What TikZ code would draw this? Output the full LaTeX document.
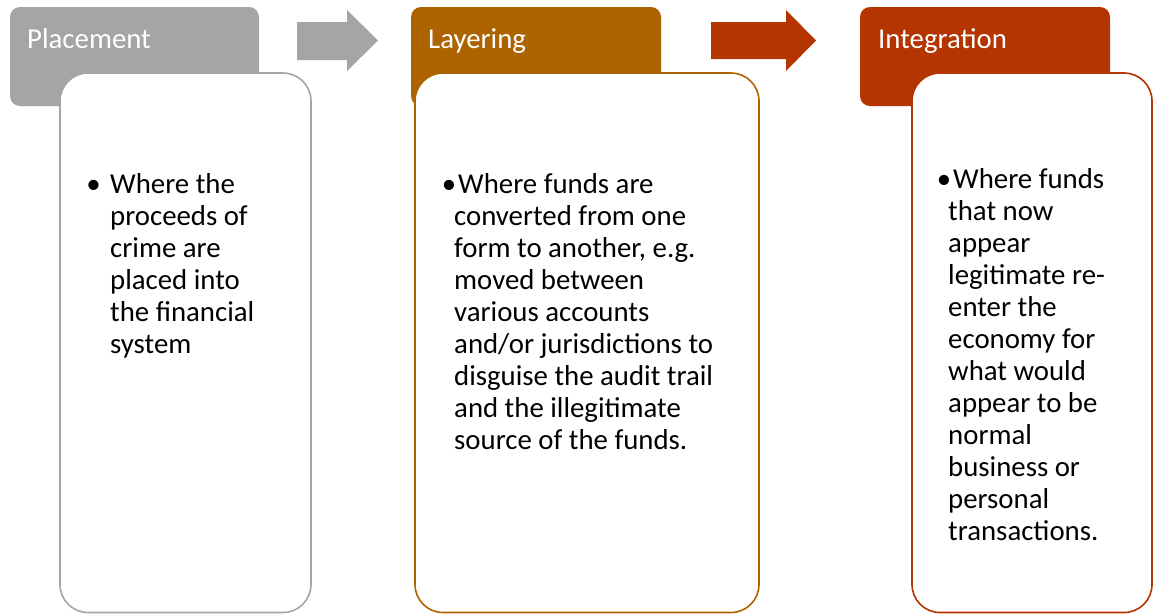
\documentclass[tikz,border=0pt]{standalone}
\usepackage{fontspec}
\setmainfont{Carlito}
\definecolor{pgray}{HTML}{A5A5A5}
\definecolor{pbrown}{HTML}{AD6400}
\definecolor{pred}{HTML}{B43500}
\newcommand{\btxt}[1]{\parbox[t]{320pt}{\fontsize{28.8}{32}\selectfont\raggedright #1}}
\tikzset{
  hdrbox/.style={rounded corners=10pt},
  bodybox/.style={fill=white, line width=1.6pt, rounded corners=28pt},
  htext/.style={anchor=base west, inner sep=0pt, text=white, font=\fontsize{28.8}{32}\selectfont},
  btext/.style={anchor=base west, inner sep=0pt, text=black},
}
\begin{document}
\begin{tikzpicture}[x=1pt, y=-1pt]
  \fill[white] (0,0) rectangle (1154,614);
  \useasboundingbox (0,0) rectangle (1154,614);

  % block arrows
  \fill[pgray] (297,22) -- (347,22) -- (347,10) -- (378,40.5) -- (347,71) -- (347,60) -- (297,60) -- cycle;
  \fill[pred] (711,22) -- (786,22) -- (786,10) -- (816,40.5) -- (786,71) -- (786,59) -- (711,59) -- cycle;

  % headers
  \fill[pgray, hdrbox] (10,7) rectangle (259,106);
  \fill[pbrown, hdrbox] (411,7) rectangle (661,106);
  \fill[pred, hdrbox] (860,7) rectangle (1110,106);

  % bodies
  \draw[bodybox, draw=pgray] (60,73) rectangle (311,612.5);
  \draw[bodybox, draw=pbrown] (415,73) rectangle (759,612.5);
  \draw[bodybox, draw=pred] (912,73) rectangle (1152,612.5);

  % header texts
  \node[htext] (t1) at (27,48) {Placement};
  \node[htext] (t2) at (428,48) {Layering};
  \node[htext] (t3) at (878,48) {Integration};

  % body texts
  \node[btext] (b1) at (110,193) {\btxt{\leavevmode\llap{•\hspace{9.6pt}}Where the\\proceeds of\\crime are\\placed into\\the financial\\system}};
  \node[btext] (b2) at (454,193) {\btxt{\hspace*{4pt}\llap{•\hspace{2pt}}Where funds are\\converted from one\\form to another, e.g.\\moved between\\various accounts\\and/or jurisdictions to\\disguise the audit trail\\and the illegitimate\\source of the funds.}};
  \node[btext] (b3) at (948,188) {\btxt{\hspace*{5pt}\llap{•\hspace{2pt}}Where funds\\that now\\appear\\legitimate re-\\enter the\\economy for\\what would\\appear to be\\normal\\business or\\personal\\transactions.}};
\end{tikzpicture}
\end{document}
